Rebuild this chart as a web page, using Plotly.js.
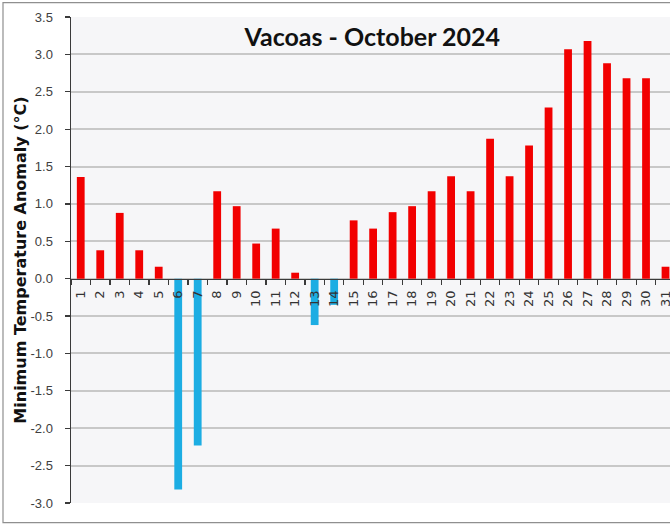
<!DOCTYPE html>
<html>
<head>
<meta charset="utf-8">
<script src="https://cdn.plot.ly/plotly-3.0.1.min.js"></script>
<style>
  html, body { margin: 0; padding: 0; background: #ffffff; }
  #chart { width: 670px; height: 524px; }
</style>
</head>
<body>
<div id="chart"></div>
<script>
// ---- data ----
const days = ['1','2','3','4','5','6','7','8','9','10','11','12','13','14','15','16',
              '17','18','19','20','21','22','23','24','25','26','27','28','29','30','31'];
const anomalies = [1.36, 0.38, 0.88, 0.38, 0.16, -2.82, -2.23, 1.17, 0.97, 0.47, 0.67, 0.08,
                   -0.62, -0.35, 0.78, 0.67, 0.89, 0.97, 1.17, 1.37, 1.17, 1.87, 1.37, 1.78,
                   2.29, 3.07, 3.18, 2.88, 2.68, 2.68, 0.16];
const yTickVals = [-3.0, -2.5, -2.0, -1.5, -1.0, -0.5, 0.0, 0.5, 1.0, 1.5, 2.0, 2.5, 3.0, 3.5];
const yTickText = ['-3.0', '-2.5', '-2.0', '-1.5', '-1.0', '-0.5', '0.0', '0.5', '1.0', '1.5',
                   '2.0', '2.5', '3.0', '3.5'];
const chartTitle = 'Vacoas - October 2024';
const yTitle = 'Minimum Temperature Anomaly (°C)';

// ---- styling ----
const warmColor = '#f20000';
const coolColor = '#1cade3';
const barColors = anomalies.map(v => (v >= 0 ? warmColor : coolColor));

const yMin = -3, yMax = 3.5;

const trace = {
  type: 'bar',
  x: days,
  y: anomalies,
  width: 0.4,
  marker: { color: barColors, line: { width: 0 } },
  hoverinfo: 'x+y'
};

const layout = {
  width: 670,
  height: 524,
  margin: { l: 71, r: 0, t: 17, b: 21, pad: 0 },
  paper_bgcolor: '#ffffff',
  plot_bgcolor: '#f6f6f8',
  showlegend: false,
  bargap: 0.6,
  title: {
    text: chartTitle,
    font: { family: 'Lato, Roboto, Liberation Sans, sans-serif', size: 25, color: '#111111', weight: 'bold' },
    xref: 'paper', x: 0.503, xanchor: 'center',
    yref: 'container', y: 0.929, yanchor: 'middle'
  },
  xaxis: {
    type: 'category',
    range: [-0.5, 30.23],
    anchor: 'free',
    position: (0 - yMin) / (yMax - yMin),
    showgrid: false,
    zeroline: false,
    showline: true,
    linecolor: '#3a3a3a',
    linewidth: 1.5,
    ticks: 'outside',
    tickson: 'boundaries',
    ticklen: 5,
    tickwidth: 1.2,
    tickcolor: '#3a3a3a',
    tickangle: -90,
    tickfont: { family: 'DejaVu Sans, Verdana, sans-serif', size: 13, color: '#333333' },
    ticklabelstandoff: 5,
    fixedrange: true
  },
  yaxis: {
    range: [yMin, yMax],
    tickmode: 'array',
    tickvals: yTickVals,
    ticktext: yTickText,
    showgrid: true,
    gridcolor: '#c8c8c8',
    gridwidth: 2,
    zeroline: false,
    showline: true,
    linecolor: '#3a3a3a',
    linewidth: 1.5,
    ticks: 'outside',
    ticklen: 5,
    tickwidth: 1.2,
    tickcolor: '#3a3a3a',
    tickfont: { family: 'Liberation Sans, Arial, sans-serif', size: 13, color: '#404040' },
    ticklabelstandoff: 9,
    title: {
      text: yTitle,
      font: { family: 'DejaVu Sans, Verdana, sans-serif', size: 16, color: '#111111', weight: 'bold' },
      standoff: 0
    },
    fixedrange: true
  },
  shapes: [
    {
      type: 'rect', xref: 'paper', yref: 'paper', layer: 'above',
      x0: (3 - 71) / 599, x1: 1.05,
      y0: (503 - 522.7) / 486, y1: (503 - 2.7) / 486,
      line: { color: '#8f8f8f', width: 1.2 },
      fillcolor: 'rgba(0,0,0,0)'
    }
  ]
};

Plotly.newPlot('chart', [trace], layout, { displayModeBar: false, staticPlot: true });
</script>
</body>
</html>
